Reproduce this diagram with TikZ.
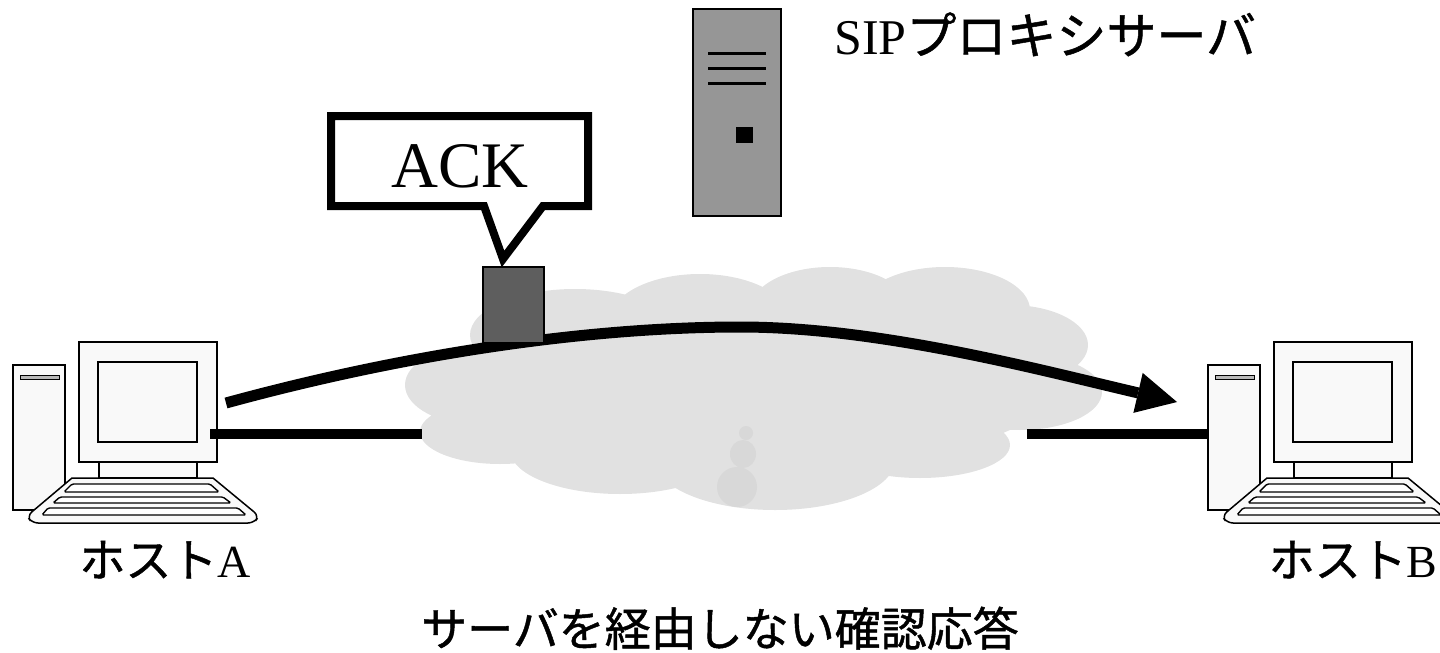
\documentclass[tikz,border=0pt]{standalone}
\usepackage{fontspec}
\setmainfont{Liberation Serif}
\newfontfamily\jp[FakeBold=1.0]{Noto Sans CJK JP}
\usetikzlibrary{arrows.meta}

\definecolor{pcfill}{HTML}{F9F9F9}
\definecolor{cloudgray}{HTML}{E1E1E1}
\definecolor{cloudshade}{HTML}{D8D8D8}
\definecolor{servergray}{HTML}{969696}
\definecolor{packetgray}{HTML}{5E5E5E}

\tikzset{
  pcpart/.style={draw=black, line width=1.5pt, fill=pcfill},
  keyrow/.style={draw=black, line width=1.4pt, fill=white, rounded corners=1.5pt},
  link/.style={draw=black, line width=10pt},
  flow/.style={draw=black, line width=11pt,
    -{Triangle[length=40pt, width=41pt, line width=0pt]}},
  label/.style={inner sep=0pt, anchor=base},
  % desktop computer: tower, monitor and keyboard
  pc/.pic={
    % tower
    \path[pcpart] (13,365) rectangle (65,510);
    \path[draw=black, line width=1pt, fill=gray!55] (20,375) rectangle (59,379);
    % monitor
    \path[pcpart] (99,462) rectangle (197,478);
    \path[pcpart] (79,342) rectangle (217,462);
    \path[pcpart] (98,362) rectangle (197,442);
    % keyboard
    \path[pcpart] (72,478) -- (213,478) [rounded corners=6pt] -- (259,516)
      -- (254,523) -- (32,523) -- (27,516) [sharp corners] -- cycle;
    \path[keyrow] (72,484) -- (210,484) -- (219,492) -- (64,492) -- cycle;
    \path[keyrow] (60,497) -- (223,497) -- (231,503) -- (53,503) -- cycle;
    \path[keyrow] (48,508) -- (238,508) -- (246,515) -- (42,515) -- cycle;
  }
}

\begin{document}
\begin{tikzpicture}[x=1pt, y=-1pt]
\useasboundingbox (0,0) rectangle (1440,653);

% network cloud
\fill[cloudgray]
  (480,385) ellipse [x radius=75, y radius=40]
  (500,432) ellipse [x radius=80, y radius=32]
  (575,335) ellipse [x radius=105, y radius=46]
  (700,320) ellipse [x radius=90, y radius=46]
  (830,310) ellipse [x radius=80, y radius=43]
  (945,310) ellipse [x radius=85, y radius=43]
  (1010,345) ellipse [x radius=78, y radius=40]
  (1020,392) ellipse [x radius=82, y radius=38]
  (920,445) ellipse [x radius=90, y radius=33]
  (775,460) ellipse [x radius=120, y radius=50]
  (620,450) ellipse [x radius=110, y radius=44]
  (750,390) ellipse [x radius=300, y radius=80];
\fill[cloudshade]
  (746,433) ellipse [x radius=7, y radius=7]
  (743,454) ellipse [x radius=13, y radius=14]
  (737,487) ellipse [x radius=20, y radius=20];

% hosts
\pic (hostA) at (0,0) {pc};
\pic (hostB) at (1195,0) {pc};
\coordinate (portA) at (210,434);
\coordinate (cloudW) at (422,434);
\coordinate (cloudE) at (1027,434);
\coordinate (portB) at (1208,434);

% access links
\draw[link] (portA) -- (cloudW);
\draw[link] (cloudE) -- (portB);

% ACK sent directly from host A to host B
\coordinate (ackStart) at (226,403);
\coordinate (ackPeak) at (740,327);
\coordinate (ackEnd) at (1177,402);
\draw[flow] (ackStart) .. controls (420,350) and (600,327) .. (ackPeak)
  .. controls (880,327) and (1040,370) .. (ackEnd);

% packet and its callout
\node[draw=black, line width=1.5pt, fill=packetgray, minimum width=61pt,
  minimum height=76pt, inner sep=0pt, anchor=north west] (packet) at (482,266) {};
\draw[line width=8pt, line join=miter, fill=white]
  (331,116) -- (588,116) -- (588,206) -- (543,206) -- (503,259)
  -- (484,206) -- (331,206) -- cycle;
\node[label, font=\fontsize{65}{65}\selectfont] (ack) at (460,187) {ACK};

% SIP proxy server
\draw[line width=2pt, fill=servergray] (693,9) rectangle (781,216);
\foreach \yy in {53,68,83} \draw[line width=3pt] (708,\yy) -- (766,\yy);
\fill[black] (736,127) rectangle (753,143);
\node[inner sep=0pt, anchor=base west, font=\fontsize{50}{50}\selectfont]
  (proxy) at (834,54) {SIP{\jp プロキシサーバ}};

% labels
\node[label, font=\fontsize{46}{46}\selectfont] (nameA) at (165,577) {{\jp ホスト}A};
\node[label, font=\fontsize{46}{46}\selectfont] (nameB) at (1353,577) {{\jp ホスト}B};
\node[label, font=\fontsize{46}{46}\selectfont] (caption) at (720,646)
  {\jp サーバを経由しない確認応答};
\end{tikzpicture}
\end{document}
